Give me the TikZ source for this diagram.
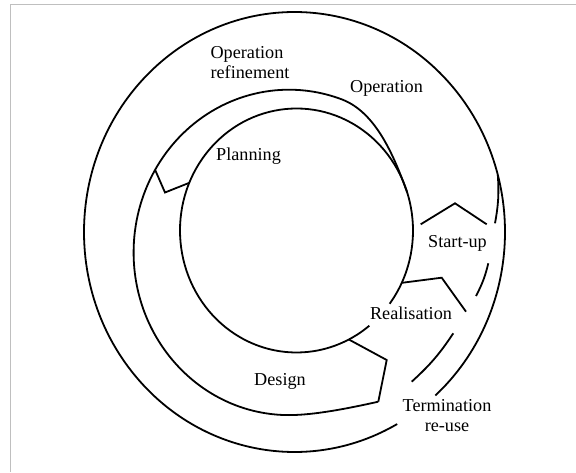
\documentclass[tikz,border=0pt]{standalone}
\usepackage{fontspec}
\setmainfont{Liberation Serif}
\tikzset{
    ring/.style = {line width=1.8pt},
    wedge/.style = {line width=1.8pt,line join=miter},
    phase/.style = {font=\fontsize{18.2}{20}\selectfont,inner sep=0,align=center},
    frame/.style = {draw=black!25,line width=1.5pt}
}

\begin{document}
\begin{tikzpicture}[x=1pt,y=1pt]
        \useasboundingbox (0,0) rectangle (576,472);
        % Frame
        \draw[frame] (10.5,0) -- (10.5,467.7) -- (576,467.7);
        % Centres
        \path (296.5,241.5) coordinate (ic)
              (294.5,240) coordinate (oc)
              (289,219.6) coordinate (mc)
        ;
        % Anchors on the rings
        \path (ic) ++(157:116.5 and 122) coordinate (plan3)
              (ic) ++(-25.4:116.5 and 122) coordinate (real1)
              (ic) ++(-63.3:116.5 and 122) coordinate (des1)
              (mc) ++(149.5:155.4 and 162.7) coordinate (plan1)
              (oc) ++(15:210.5 and 220) coordinate (term0)
        ;
        \path (165,279.5) coordinate (plan2)
              (441.7,194.3) coordinate (real2)
              (466,160.3) coordinate (real3)
              (386.7,112) coordinate (des2)
              (378.3,70.3) coordinate (des3)
              (420.7,247.7) coordinate (start1)
              (455,268.7) coordinate (start2)
              (486.7,247.7) coordinate (start3)
        ;
        % Rings
        \draw[ring] (ic) ++(-36.9:116.5 and 122)
            arc[start angle=-36.9,end angle=308.7,x radius=116.5,y radius=122];
        \draw[ring] (des3) .. controls (350,64) and (315,56.9) .. (289,56.9)
            arc[start angle=-90,end angle=-290,x radius=155.4,y radius=162.7]
            .. controls (376,359.5) and (394,316) .. (407,280);
        \draw[ring] (oc) ++(-48:210.5 and 220)
            arc[start angle=-48,end angle=299.2,x radius=210.5,y radius=220];
        % Termination track
        \path (495,248.7) coordinate (term1)
              (488.3,208.7) coordinate (term2)
              (476,176) coordinate (term3)
              (453.3,138.7) coordinate (term4)
              (411.7,90.3) coordinate (term5)
        ;
        \foreach \src/\dest in {term0/term1,term2/term3,term4/term5}
            \draw[ring] (\src) to[bend left=7] (\dest);
        % Wedges
        \foreach \a/\b/\c in {plan1/plan2/plan3,real1/real2/real3,des1/des2/des3,start1/start2/start3}
            \draw[wedge] (\a) -- (\b) -- (\c);
        % Phases
        \node[phase,align=left] (oprefine) at (250,409) {Operation\\refinement};
        \node[phase] (operation) at (386.5,384) {Operation};
        \node[phase] (planning) at (248.5,316) {Planning};
        \node[phase] (startup) at (457.5,229) {Start-up};
        \node[phase] (realisation) at (411,159) {Realisation};
        \node[phase] (design) at (280,91) {Design};
        \node[phase] (termination) at (447,56) {Termination\\re-use};
\end{tikzpicture}
\end{document}
